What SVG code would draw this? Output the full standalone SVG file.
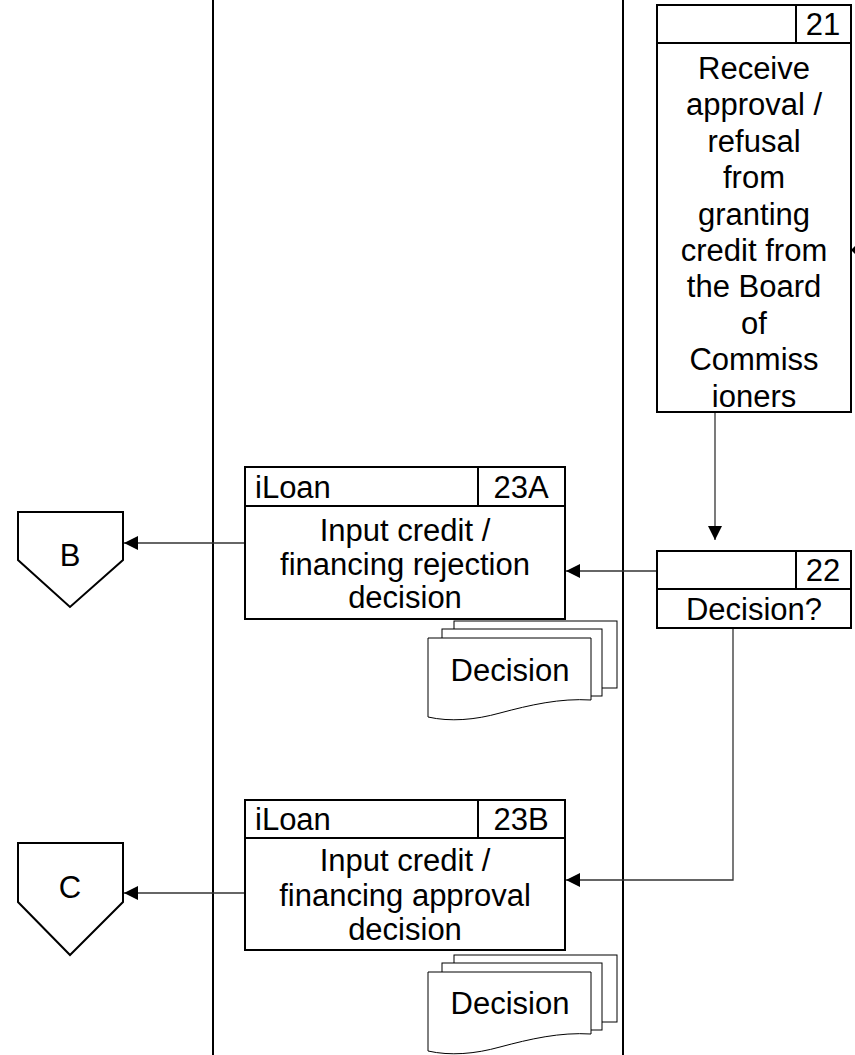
<svg xmlns="http://www.w3.org/2000/svg" width="855" height="1055" viewBox="0 0 855 1055">
<style>
text{font-family:"Liberation Sans",Arial,sans-serif;font-size:31px;fill:#000}
.m{text-anchor:middle}
.box{fill:#fff;stroke:#000;stroke-width:2}
.doc{fill:#fff;stroke:#000;stroke-width:1}
.lane{stroke:#000;stroke-width:2}
.con{fill:none;stroke:#333;stroke-width:1.3}
</style>
<defs>
<marker id="ah" viewBox="0 0 14 14" refX="14" refY="7" markerWidth="14" markerHeight="14" markerUnits="userSpaceOnUse" orient="auto">
<path d="M0,0 L14,7 L0,14 Z" fill="#000"/>
</marker>
</defs>
<g id="lanes">
<line class="lane" x1="213" y1="0" x2="213" y2="1055"/>
<line class="lane" x1="623" y1="0" x2="623" y2="1055"/>
</g>
<g id="connectors">
<line class="con" x1="715" y1="412" x2="715" y2="540" marker-end="url(#ah)"/>
<line class="con" x1="657" y1="571" x2="566" y2="571" marker-end="url(#ah)"/>
<polyline class="con" points="733,628 733,880 566,880" marker-end="url(#ah)"/>
<line class="con" x1="245" y1="543" x2="124" y2="543" marker-end="url(#ah)"/>
<line class="con" x1="245" y1="893" x2="124" y2="893" marker-end="url(#ah)"/>
<path d="M856,245 L851,250 L856,255 Z" fill="#000"/>
</g>
<g id="n21">
<rect class="box" x="657" y="5" width="194" height="407"/>
<line class="box" x1="657" y1="43" x2="851" y2="43"/>
<line class="box" x1="796" y1="5" x2="796" y2="43"/>
<text class="m" x="823" y="35">21</text>
<text class="m" x="754" y="79">Receive</text>
<text class="m" x="754" y="115">approval /</text>
<text class="m" x="754" y="152">refusal</text>
<text class="m" x="754" y="188">from</text>
<text class="m" x="754" y="225">granting</text>
<text class="m" x="754" y="261">credit from</text>
<text class="m" x="754" y="297">the Board</text>
<text class="m" x="754" y="334">of</text>
<text class="m" x="754" y="370">Commiss</text>
<text class="m" x="754" y="407">ioners</text>
</g>
<g id="n22">
<rect class="box" x="657" y="551" width="194" height="77"/>
<line class="box" x1="657" y1="589" x2="851" y2="589"/>
<line class="box" x1="796" y1="551" x2="796" y2="589"/>
<text class="m" x="823" y="581">22</text>
<text class="m" x="754" y="620">Decision?</text>
</g>
<g id="n23A">
<rect class="box" x="245" y="467" width="320" height="152"/>
<line class="box" x1="245" y1="506" x2="565" y2="506"/>
<line class="box" x1="478" y1="467" x2="478" y2="506"/>
<text x="255" y="498">iLoan</text>
<text class="m" x="521" y="498">23A</text>
<text class="m" x="405" y="541">Input credit /</text>
<text class="m" x="405" y="575">financing rejection</text>
<text class="m" x="405" y="608">decision</text>
</g>
<g id="n23B">
<rect class="box" x="245" y="800" width="320" height="150"/>
<line class="box" x1="245" y1="838" x2="565" y2="838"/>
<line class="box" x1="478" y1="800" x2="478" y2="838"/>
<text x="255" y="830">iLoan</text>
<text class="m" x="521" y="830">23B</text>
<text class="m" x="405" y="871">Input credit /</text>
<text class="m" x="405" y="906">financing approval</text>
<text class="m" x="405" y="940">decision</text>
</g>
<g id="nB">
<path class="box" d="M18,512 H123 V560 L70,607 L18,560 Z"/>
<text class="m" x="70" y="566">B</text>
</g>
<g id="nC">
<path class="box" d="M18,843 H123 V902 L70,955 L18,902 Z"/>
<text class="m" x="70" y="898">C</text>
</g>
<g id="docA">
<rect class="doc" x="454" y="621" width="163" height="67"/>
<rect class="doc" x="442" y="629" width="160" height="67"/>
<path class="doc" d="M428,638 H591 V700 C560,698 530,705 500,713 C475,720 450,722 428,717 Z"/>
<text class="m" x="510" y="681">Decision</text>
</g>
<g id="docB">
<rect class="doc" x="454" y="955" width="163" height="67"/>
<rect class="doc" x="442" y="963" width="160" height="67"/>
<path class="doc" d="M428,972 H591 V1034 C560,1032 530,1039 500,1047 C475,1054 450,1056 428,1051 Z"/>
<text class="m" x="510" y="1014">Decision</text>
</g>
</svg>
